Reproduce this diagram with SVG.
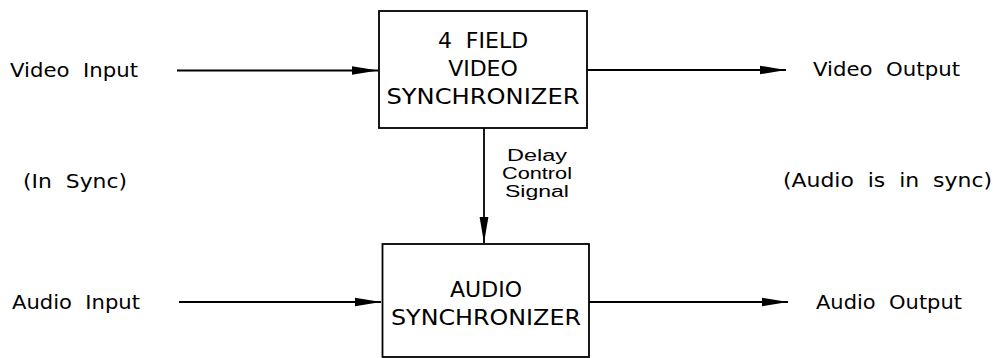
<svg xmlns="http://www.w3.org/2000/svg" width="996" height="358" viewBox="0 0 996 358">
<style>
text{font-family:"DejaVu Sans","Liberation Sans",sans-serif;fill:#000;white-space:pre}
.lbl{font-size:20px}
.box{font-size:22px;text-anchor:middle}
.sig{font-family:"Liberation Sans",sans-serif;font-size:16px;text-anchor:middle}
.node rect{fill:#fff;stroke:#000;stroke-width:1.8}
.conn line{stroke:#000;stroke-width:1.8}
</style>
<defs>
<marker id="ah" markerWidth="26" markerHeight="10" refX="26" refY="5" orient="auto" markerUnits="userSpaceOnUse">
<path d="M0,0.8 L26,5 L0,9.2 Z" fill="#000"/>
</marker>
<marker id="ahv" markerWidth="26" markerHeight="10" refX="26" refY="5" orient="auto" markerUnits="userSpaceOnUse">
<path d="M0,0.6 L26,5 L0,9.4 Z" fill="#000"/>
</marker>
</defs>
<rect width="996" height="358" fill="#fff"/>
<g id="connectors" class="conn">
<line x1="177" y1="70.5" x2="378" y2="70.5" marker-end="url(#ah)"/>
<line x1="587" y1="70" x2="786" y2="70" marker-end="url(#ah)"/>
<line x1="179" y1="302" x2="381" y2="302" marker-end="url(#ah)"/>
<line x1="589" y1="302" x2="788" y2="302" marker-end="url(#ah)"/>
<line x1="484" y1="128" x2="484" y2="243" marker-end="url(#ahv)"/>
</g>
<g id="video-sync" class="node">
<rect x="379" y="11" width="208" height="117"/>
<text class="box" x="483" y="48">4  FIELD</text>
<text class="box" x="483" y="76">VIDEO</text>
<text class="box" x="483" y="104" textLength="193" lengthAdjust="spacingAndGlyphs">SYNCHRONIZER</text>
</g>
<g id="audio-sync" class="node">
<rect x="382.5" y="244" width="206.5" height="113"/>
<text class="box" x="486" y="297">AUDIO</text>
<text class="box" x="486" y="325" textLength="190" lengthAdjust="spacingAndGlyphs">SYNCHRONIZER</text>
</g>
<g id="delay-label">
<text class="sig" x="537" y="161" textLength="60" lengthAdjust="spacingAndGlyphs">Delay</text>
<text class="sig" x="537" y="179" textLength="70" lengthAdjust="spacingAndGlyphs">Control</text>
<text class="sig" x="537" y="197" textLength="64" lengthAdjust="spacingAndGlyphs">Signal</text>
</g>
<g id="video-input"><text class="lbl" x="10" y="77" textLength="128" lengthAdjust="spacingAndGlyphs">Video  Input</text></g>
<g id="video-output"><text class="lbl" x="813" y="76" textLength="147" lengthAdjust="spacingAndGlyphs">Video  Output</text></g>
<g id="audio-input"><text class="lbl" x="12" y="309" textLength="128" lengthAdjust="spacingAndGlyphs">Audio  Input</text></g>
<g id="audio-output"><text class="lbl" x="816" y="309" textLength="146" lengthAdjust="spacingAndGlyphs">Audio  Output</text></g>
<g id="in-sync"><text class="lbl" x="23" y="188" textLength="104" lengthAdjust="spacingAndGlyphs">(In  Sync)</text></g>
<g id="audio-in-sync"><text class="lbl" x="783" y="187" textLength="209" lengthAdjust="spacingAndGlyphs">(Audio  is  in  sync)</text></g>
</svg>
